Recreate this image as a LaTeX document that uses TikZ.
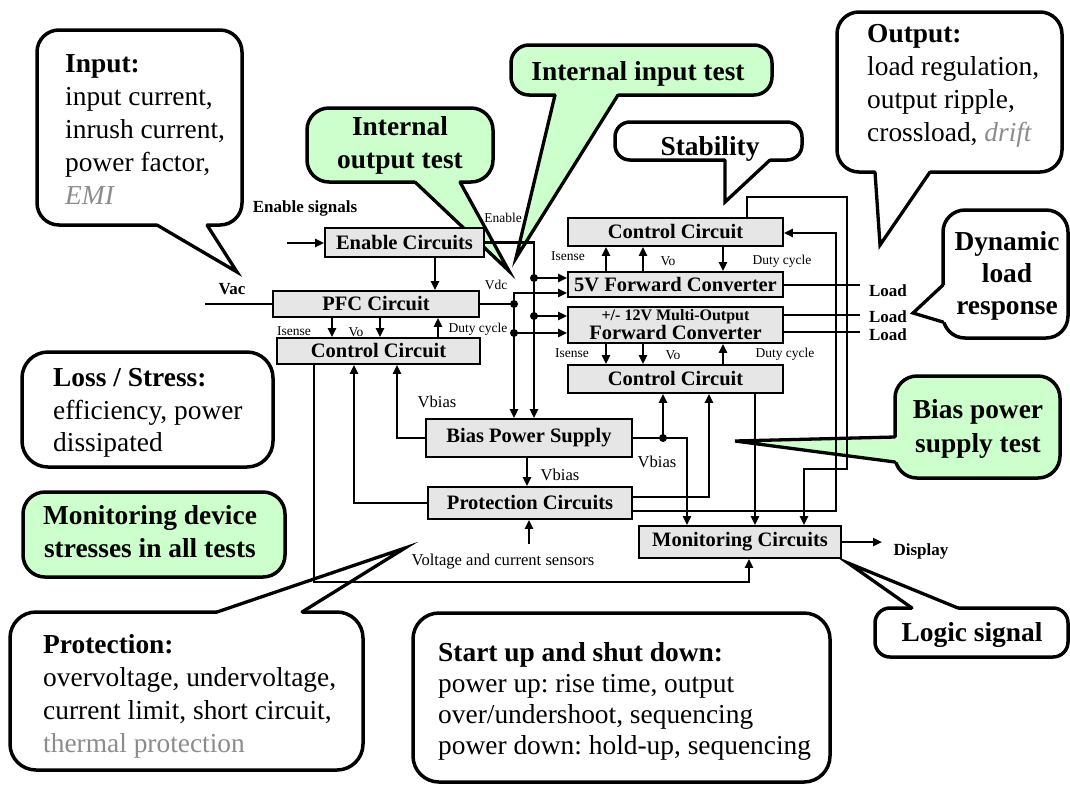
\documentclass[tikz,border=0pt]{standalone}
\usepackage{fontspec}
\setmainfont{Liberation Serif}
\usetikzlibrary{arrows.meta,calc}
\frenchspacing

\definecolor{mint}{HTML}{CCFFCC}
\definecolor{blockgray}{HTML}{E6E6E6}
\definecolor{softgray}{HTML}{8C8C8C}

\newcommand{\tightlines}{\setlength{\lineskiplimit}{-30pt}}

\tikzset{
  block/.style={draw, line width=1.8pt, fill=blockgray, inner sep=0pt,
    font=\bfseries\fontsize{20.5}{20}\selectfont},
  wire/.style={line width=2.3pt},
  tip/.tip={Triangle[length=9pt,width=8pt]},
  arrow/.style={wire, -tip},
  arrows2/.style={wire, tip-tip},
  dot/.style={circle, fill=black, inner sep=0pt, minimum size=8pt},
  callout/.style={draw, line width=3.5pt, rounded corners=22pt, fill=white, inner sep=0pt},
  greencall/.style={callout, fill=mint},
  tailline/.style={line width=3.3pt, line cap=round, line join=miter},
  calltext/.style={inner sep=0pt, font=\fontsize{27.4}{33}\selectfont, align=left},
  callbold/.style={inner sep=0pt, font=\bfseries\fontsize{27.4}{33}\selectfont, align=center},
  small/.style={inner sep=0pt, font=\fontsize{13.5}{14}\selectfont},
  mid/.style={inner sep=0pt, font=\fontsize{16.6}{18}\selectfont},
  tag/.style={inner sep=0pt, font=\bfseries\fontsize{17}{18}\selectfont},
}

% speech-bubble tail: fill colour, two base points on the box edge, tip, inward shift
\newcommand{\tail}[5]{%
  \fill[#1] ($(#2)+(#5)$) -- (#2) -- (#4) -- (#3) -- ($(#3)+(#5)$) -- cycle;
  \draw[tailline] (#2) -- (#4) -- (#3);}

\begin{document}
\begin{tikzpicture}[x=1pt,y=-1pt]
\useasboundingbox (0,0) rectangle (1070,788);
\fill[white] (0,0) rectangle (1070,788);

% ---------------- callouts ----------------
\node[callout, minimum width=205pt, minimum height=195pt] (inputbox) at (139.5,127.5) {};
\tail{white}{157,225}{207,225}{237,272}{0,-5}
\node[calltext, anchor=north west] (inputtxt) at (65,54)
  {\textbf{Input:}\\input current,\\inrush current,\\power factor,\\\textcolor{softgray}{\textit{EMI}}};

\node[greencall, rounded corners=18pt, minimum width=261pt, minimum height=50pt] (inbox) at (641.5,70) {};
\tail{mint}{555,95}{618,95}{516,258}{0,-5}
\node[callbold, anchor=base] (intxt) at (638,80) {Internal input test};

\node[greencall, minimum width=186pt, minimum height=74pt] (outbox) at (400,145) {};
\tail{mint}{415,182}{460,182}{509,271}{0,-5}
\node[callbold, anchor=north] (outtxt) at (400,116.5) {Internal\\output test};

\node[callout, rounded corners=15pt, minimum width=187pt, minimum height=38pt] (stabbox) at (708.5,141) {};
\tail{white}{725,160}{770,160}{725,202}{0,-5}
\node[callbold, anchor=base] (stabtxt) at (710,155) {Stability};

\node[callout, minimum width=225pt, minimum height=160pt] (outputbox) at (949.5,92) {};
\tail{white}{875,172}{930,172}{880,245}{0,-5}
\node[calltext, anchor=north west] (outputtxt) at (867,24.5)
  {\textbf{Output:}\\load regulation,\\output ripple,\\crossload, \textcolor{softgray}{\textit{drift}}};

\node[callout, minimum width=125pt, minimum height=128pt] (dynbox) at (1005.5,274) {};
\tail{white}{943,285}{943,322}{913,313}{5,0}
\node[callbold, anchor=north, font=\bfseries\fontsize{27.4}{32}\selectfont] (dyntxt) at (1007,231.5) {Dynamic\\load\\response};

\node[greencall, minimum width=165pt, minimum height=102pt] (biasbox) at (977.5,427) {};
\tail{mint}{895,437}{895,462}{735,441}{5,0}
\node[callbold, anchor=north, font=\bfseries\fontsize{27.4}{34}\selectfont] (biastxt) at (978,399.5) {Bias power\\supply test};

\node[callout, rounded corners=15pt, minimum width=193pt, minimum height=49pt] (logicbox) at (971.5,632.5) {};
\tail{white}{912,608}{958,608}{848,563}{0,5}
\node[callbold, anchor=base] (logictxt) at (972,641) {Logic signal};

\node[callout, rounded corners=26pt, minimum width=251pt, minimum height=115pt] (lossbox) at (147.5,409.5) {};
\node[calltext, anchor=north west, font=\fontsize{27.4}{32.5}\selectfont] (losstxt) at (53,368.5)
  {\textbf{Loss / Stress:}\\efficiency, power\\dissipated};

\node[greencall, minimum width=262pt, minimum height=85pt] (monbox) at (154,534.5) {};
\node[callbold, anchor=north] (montxt) at (150,505.5) {Monitoring device\\stresses in all tests};

\node[callout, rounded corners=26pt, minimum width=353pt, minimum height=158pt] (protbox) at (186.5,691) {};
\tail{white}{217,612}{302,612}{405,548}{0,5}
\node[calltext, anchor=north west] (prottxt) at (43,634)
  {\textbf{Protection:}\\overvoltage, undervoltage,\\current limit, short circuit,\\\textcolor{softgray}{thermal protection}};

\node[callout, rounded corners=26pt, minimum width=417pt, minimum height=169pt] (startbox) at (621.5,697.5) {};
\node[calltext, anchor=north west, font=\fontsize{27.4}{31}\selectfont] (starttxt) at (438,642)
  {\textbf{Start up and shut down:}\\power up: rise time, output\\over/undershoot, sequencing\\power down: hold-up, sequencing};

% ---------------- blocks ----------------
\node[block, minimum width=159pt, minimum height=29pt] (enable) at (404.5,242.5) {Enable Circuits};
\node[block, minimum width=206pt, minimum height=26pt] (pfc) at (376,304) {PFC Circuit};
\node[block, minimum width=203pt, minimum height=26pt] (pfcctl) at (378.5,351) {Control Circuit};
\node[block, minimum width=215pt, minimum height=28pt] (ctlA) at (675.5,232) {Control Circuit};
\node[block, minimum width=215pt, minimum height=25pt] (fwdA) at (675.5,284.5) {5V Forward Converter};
\node[block, minimum width=215pt, minimum height=36pt, align=center,
      font=\bfseries\fontsize{20.5}{20}\selectfont\tightlines] (fwdB) at (675.5,325)
  {{\fontsize{16}{16}\selectfont +/- 12V Multi-Output}\\[-1pt]Forward Converter};
\node[block, minimum width=215pt, minimum height=28pt] (ctlB) at (675.5,379) {Control Circuit};
\node[block, minimum width=206pt, minimum height=38pt] (bias) at (529,438) {Bias Power Supply};
\node[block, minimum width=204pt, minimum height=32pt] (prot) at (530,503) {Protection Circuits};
\node[block, minimum width=202pt, minimum height=32pt] (mon) at (740,542) {Monitoring Circuits};

% ---------------- lanes and free ends ----------------
\coordinate (enbus) at (534,0);
\coordinate (dcbus) at (514,0);
\coordinate (enpfc) at (435,0);
\coordinate (pfcI) at (332,0);
\coordinate (pfcV) at (380,0);
\coordinate (pfcD) at (438,0);
\coordinate (cA) at (606,0);
\coordinate (cB) at (643,0);
\coordinate (cC) at (723,0);
\coordinate (monlane) at (314,0);
\coordinate (protlane) at (354,0);
\coordinate (biaslane) at (397,0);
\coordinate (biasdn) at (527,0);
\coordinate (biasout) at (687,0);
\coordinate (biastap) at (663,0);
\coordinate (protup) at (709,0);
\coordinate (protret) at (836,0);
\coordinate (stab) at (747,0);
\coordinate (stabright) at (847,0);
\coordinate (stabdown) at (804,0);
\coordinate (ctlmon) at (755,0);
\coordinate (monin) at (749,0);
\coordinate (yA) at (0,278);
\coordinate (yB) at (0,316);
\coordinate (yC) at (0,293);
\coordinate (yD) at (0,333);
\coordinate (ybot) at (0,582);
\coordinate (yprotA) at (0,497);
\coordinate (yprotB) at (0,511);
\coordinate (yret) at (0,233);
\coordinate (ytop) at (0,197);
\coordinate (ymid) at (0,469);
\coordinate (enin) at (287,243);
\coordinate (vacin) at (205,304);
\coordinate (sens) at (529,544);
\coordinate (loadA) at (860,285);
\coordinate (loadB) at (860,315);
\coordinate (loadC) at (860,332);
\coordinate (disp) at (882,542);

% ---------------- connectors ----------------
\draw[arrow] (enin) -- (enin -| enable.west);
\draw[arrow] (enable.south -| enpfc) -- (pfc.north -| enpfc);
\draw[arrow] (enable.east) -| (bias.north -| enbus);
\draw[arrow] (enbus |- yA) -- (fwdA.west |- yA);
\draw[arrow] (enbus |- yB) -- (fwdB.west |- yB);
\node[dot] (dA) at (enbus |- yA) {};
\node[dot] (dB) at (enbus |- yB) {};

\draw[arrows2] (fwdA.west |- yC) -| (bias.north -| dcbus);
\draw[wire] (pfc.east) -- (pfc.east -| dcbus);
\draw[arrow] (dcbus |- yD) -- (fwdB.west |- yD);
\node[dot] (dC) at (pfc.east -| dcbus) {};
\node[dot] (dD) at (dcbus |- yD) {};

\draw[wire] (vacin) -- (pfc.west);
\draw[arrow] (pfc.south -| pfcI) -- (pfcctl.north -| pfcI);
\draw[arrow] (pfc.south -| pfcV) -- (pfcctl.north -| pfcV);
\draw[arrow] (pfcctl.north -| pfcD) -- (pfc.south -| pfcD);

\draw[arrow] (pfcctl.south -| monlane) |- (monin |- ybot) -- (mon.south -| monin);
\draw[arrow] (prot.west) -| (pfcctl.south -| protlane);
\draw[arrow] (bias.west) -| (pfcctl.south -| biaslane);
\draw[arrow] (bias.south -| biasdn) -- (prot.north -| biasdn);
\draw[arrow] (sens) -- (sens |- prot.south);
\draw[arrow] (bias.east) -| (mon.north -| biasout);
\draw[arrow] (bias.east -| biastap) -- (ctlB.south -| biastap);
\node[dot] (dE) at (bias.east -| biastap) {};
\draw[arrow] (prot.east |- yprotA) -| (ctlB.south -| protup);
\draw[arrow] (prot.east |- yprotB) -| (protret |- yret) -- (ctlA.east |- yret);
\draw[arrow] (ctlA.north -| stab) |- (stabright |- ytop) |- (stabdown |- ymid) -- (mon.north -| stabdown);
\draw[arrow] (ctlB.south -| ctlmon) -- (mon.north -| ctlmon);

\draw[arrow] (fwdA.north -| cA) -- (ctlA.south -| cA);
\draw[arrow] (fwdA.north -| cB) -- (ctlA.south -| cB);
\draw[arrow] (ctlA.south -| cC) -- (fwdA.north -| cC);
\draw[arrow] (fwdB.south -| cA) -- (ctlB.north -| cA);
\draw[arrow] (fwdB.south -| cB) -- (ctlB.north -| cB);
\draw[arrow] (ctlB.north -| cC) -- (fwdB.south -| cC);

\draw[wire] (fwdA.east |- loadA) -- (loadA);
\draw[wire] (fwdB.east |- loadB) -- (loadB);
\draw[wire] (fwdB.east |- loadC) -- (loadC);
\draw[arrow] (mon.east) -- (disp);

% ---------------- labels ----------------
\node[tag] (lensig) at (305,208) {Enable signals};
\node[tag] (lvac) at (232,289) {Vac};
\node[small] (len) at (503,218) {Enable};
\node[small] (lvdc) at (496,285) {Vdc};
\node[small] (lpi) at (294,331) {Isense};
\node[small] (lpv) at (356,332) {Vo};
\node[small] (lpd) at (478,329) {Duty cycle};
\node[small] (lai) at (568,256) {Isense};
\node[small] (lav) at (668,261) {Vo};
\node[small] (lad) at (782,261) {Duty cycle};
\node[small] (lbi) at (572,353) {Isense};
\node[small] (lbv) at (673,355) {Vo};
\node[small] (lbd) at (785,354) {Duty cycle};
\node[mid] (lvb1) at (437,402) {Vbias};
\node[mid] (lvb2) at (560,475) {Vbias};
\node[mid] (lvb3) at (657,462) {Vbias};
\node[mid] (lsens) at (503,562) {Voltage and current sensors};
\node[tag] (lloadA) at (888,291) {Load};
\node[tag] (lloadB) at (888,317) {Load};
\node[tag] (lloadC) at (888,335) {Load};
\node[tag] (ldisp) at (921,551) {Display};
\end{tikzpicture}
\end{document}
